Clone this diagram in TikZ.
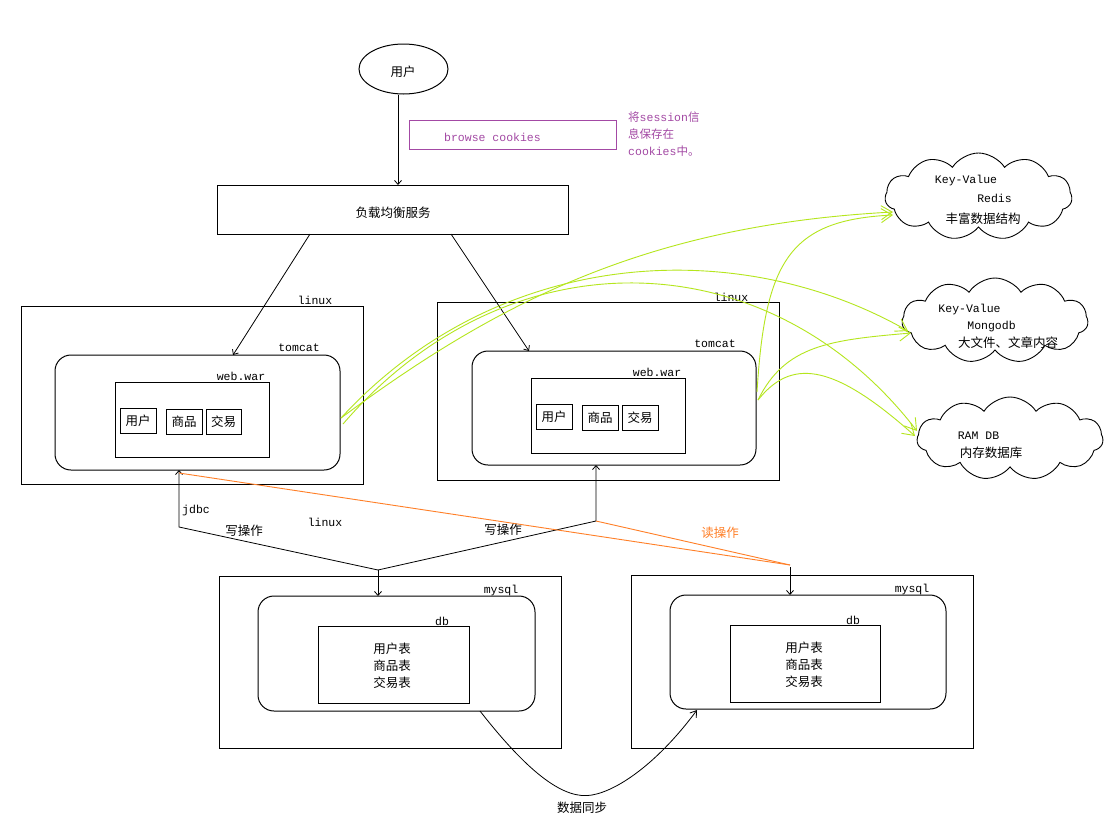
\documentclass[tikz,border=0pt]{standalone}
\usepackage{fontspec}
\setmainfont{Liberation Mono}
\newfontfamily\cjk{Noto Sans CJK SC}
\usetikzlibrary{shapes.geometric,shapes.symbols,arrows.meta,calc}
\definecolor{lime}{HTML}{B5E61D}
\definecolor{porange}{HTML}{FF7F27}
\definecolor{ppurple}{HTML}{A349A4}
\tikzset{
 bx/.style={draw, line width=1pt, inner sep=0pt, outer sep=0pt},
 rbox/.style={bx, rounded corners=16pt},
 cj/.style={font=\cjk\fontsize{12.5}{15}\selectfont, inner sep=0pt},
 lt/.style={font=\fontsize{11.5}{14}\selectfont, inner sep=0pt},
 cloudnode/.style={cloud, draw, line width=0.9pt, cloud puffs=11, cloud puff arc=115, cloud ignores aspect, inner sep=0pt, outer sep=0pt},
 blk/.style={line width=0.8pt, -{Straight Barb[length=4pt,width=7pt]}},
 grn/.style={draw=lime, line width=0.9pt, -{Straight Barb[length=11pt,width=14pt]}},
}
\begin{document}
\begin{tikzpicture}[x=1pt,y=-1pt]
\useasboundingbox (0,0) rectangle (1107,822);
\fill[white] (0,0) rectangle (1107,822);

% top
\node[draw, ellipse, line width=1pt, minimum width=89pt, minimum height=50pt] (user) at (403.5,69) {};
\node[cj] (usert) at (403,72) {用户};
\node[bx, minimum width=351pt, minimum height=49pt] (lb) at (392.5,209.5) {};
\node[cj] (lbt) at (393,213) {负载均衡服务};
\node[bx, draw=ppurple, minimum width=207pt, minimum height=29pt] (ck) at (512.5,134.5) {};
\node[lt, text=ppurple] (ckt) at (492.5,137) {browse cookies};
\node[lt, text=ppurple, align=left, anchor=north west, font=\fontsize{11.5}{17}\selectfont] (note) at (628,112) {{\cjk 将}session{\cjk 信}\\{\cjk 息保存在}\\cookies{\cjk 中。}};

% left server
\node[bx, minimum width=342pt, minimum height=178pt] (lx1) at (192,395) {};
\node[lt] (lx1t) at (315,300) {linux};
\node[rbox, minimum width=285pt, minimum height=115pt] (tc1) at (197.5,412.5) {};
\node[lt] (tc1t) at (299,348) {tomcat};
\node[bx, minimum width=154pt, minimum height=75pt] (war1) at (192,419.5) {};
\node[lt] (war1t) at (241,376) {web.war};
\node[bx, minimum width=36pt, minimum height=25pt, cj] (u1) at (138,420.5) {用户};
\node[bx, minimum width=36pt, minimum height=25pt, cj] (p1) at (184,421.5) {商品};
\node[bx, minimum width=35pt, minimum height=25pt, cj] (t1) at (223.5,421.5) {交易};

% right server
\node[bx, minimum width=342pt, minimum height=178pt] (lx2) at (608,391) {};
\node[lt] (lx2t) at (731,297) {linux};
\node[rbox, minimum width=284pt, minimum height=114pt] (tc2) at (614,408) {};
\node[lt] (tc2t) at (715,344) {tomcat};
\node[bx, minimum width=154pt, minimum height=75pt] (war2) at (608,415.5) {};
\node[lt] (war2t) at (657,372) {web.war};
\node[bx, minimum width=36pt, minimum height=25pt, cj] (u2) at (554,416.5) {用户};
\node[bx, minimum width=36pt, minimum height=25pt, cj] (p2) at (600,417.5) {商品};
\node[bx, minimum width=36pt, minimum height=25pt, cj] (t2) at (640,417.5) {交易};

% mysql left
\node[bx, minimum width=342pt, minimum height=172pt] (ms1) at (390,662) {};
\node[rbox, minimum width=277pt, minimum height=115pt] (my1) at (396.5,653.5) {};
\node[lt] (my1t) at (501,591) {mysql};
\node[bx, minimum width=151pt, minimum height=77pt] (db1) at (393.5,664.5) {};
\node[lt] (db1t) at (442,621) {db};
\node[cj, align=center, font=\cjk\fontsize{12.5}{17}\selectfont] (db1x) at (392,666) {用户表\\商品表\\交易表};

% mysql right
\node[bx, minimum width=342pt, minimum height=173pt] (ms2) at (802,661.5) {};
\node[rbox, minimum width=276pt, minimum height=114pt] (my2) at (808,652) {};
\node[lt] (my2t) at (912,590) {mysql};
\node[bx, minimum width=150pt, minimum height=77pt] (db2) at (805,663.5) {};
\node[lt] (db2t) at (853,620) {db};
\node[cj, align=center, font=\cjk\fontsize{12.5}{17}\selectfont] (db2x) at (804,665) {用户表\\商品表\\交易表};

% clouds
\node[cloudnode, minimum width=187pt, minimum height=87pt] (redis) at (978.5,196.5) {};
\node[lt] (rk) at (966,181) {Key-Value};
\node[lt] (rr) at (994.5,198) {Redis};
\node[cj] (rc) at (983,219) {丰富数据结构};
\node[cloudnode, minimum width=186pt, minimum height=85pt] (mongo) at (995,320.5) {};
\node[lt] (mk) at (969.5,310) {Key-Value};
\node[lt] (mm) at (991.5,327) {Mongodb};
\node[cj] (mc) at (1008,343) {大文件、文章内容};
\node[cloudnode, minimum width=186pt, minimum height=83pt] (ram) at (1010,438.5) {};
\node[lt] (ra) at (978.5,436) {RAM DB};
\node[cj] (rd) at (991,453) {内存数据库};

% top connectors
\draw[blk] ([xshift=-5.5pt]user.south) -- ([xshift=-5.5pt]user.south |- lb.north);
\draw[blk] ($(lb.south west)+(93,0)$) -- ($(tc1.north west)+(178,0)$);
\draw[blk] ($(lb.south west)+(234,0)$) -- ($(tc2.north west)+(57,0)$);

% bottom connectors
\coordinate (jl) at (179,527);
\coordinate (J) at (378,570);
\coordinate (jr) at (596,521);
\coordinate (K) at (790,565);
\coordinate (o1) at (jl |- tc1.south);
\draw[blk] (J) -- (jl) -- (o1);
\draw[blk] (J) -- (jr) -- (jr |- tc2.south);
\draw[blk] (J) -- (J |- my1.north);
\draw[porange, line width=0.9pt] ($(o1)+(0,3)$) -- (K);
\draw[porange, line width=0.9pt] (jr) -- (K);
\draw[blk] ($(K)+(0,2)$) -- (K |- my2.north);
\node[cj] (w1) at (244,531) {写操作};
\node[cj] (w2) at (503,530) {写操作};
\node[cj, text=porange] (rd1) at (720,533) {读操作};
\node[lt] (jd) at (196,511) {jdbc};
\node[lt] (lx3) at (325,522) {linux};

% sync
\coordinate (sb) at (592,795);
\draw[line width=0.8pt, -{Straight Barb[length=6pt,width=8pt]}] ($(my1.south west)+(222,0)$) .. controls (530,775) and (565,800) .. (sb) .. controls (620,790) and (660,760) .. ($(my2.south west)+(27,1)$);
\node[cj] (sync) at (582,808) {数据同步};

% green
\coordinate (gA) at ($(tc1.east)+(1,5.5)$);
\coordinate (gB) at ($(tc1.east)+(3,11.5)$);
\coordinate (hA) at ($(tc2.east)+(1,-16)$);
\coordinate (hB) at ($(tc2.east)+(2,-8)$);
\coordinate (eR1) at (893,212);
\coordinate (eR2) at (893,215);
\coordinate (eM1) at (908,331);
\coordinate (eM2) at (911,333);
\coordinate (eD1) at (917,431);
\coordinate (eD2) at (915,436);
\draw[grn] (gA) .. controls (500,300) and (650,225) .. (eR1);
\draw[grn] (gA) .. controls (500,245) and (740,235) .. (eM1);
\draw[grn] (gB) .. controls (510,230) and (770,240) .. (eD1);
\draw[grn] (hA) .. controls (765,260) and (790,220) .. (eR2);
\draw[grn] (hB) .. controls (785,345) and (830,340) .. (eM2);
\draw[grn] (hB) .. controls (790,360) and (830,360) .. (eD2);
\end{tikzpicture}
\end{document}
